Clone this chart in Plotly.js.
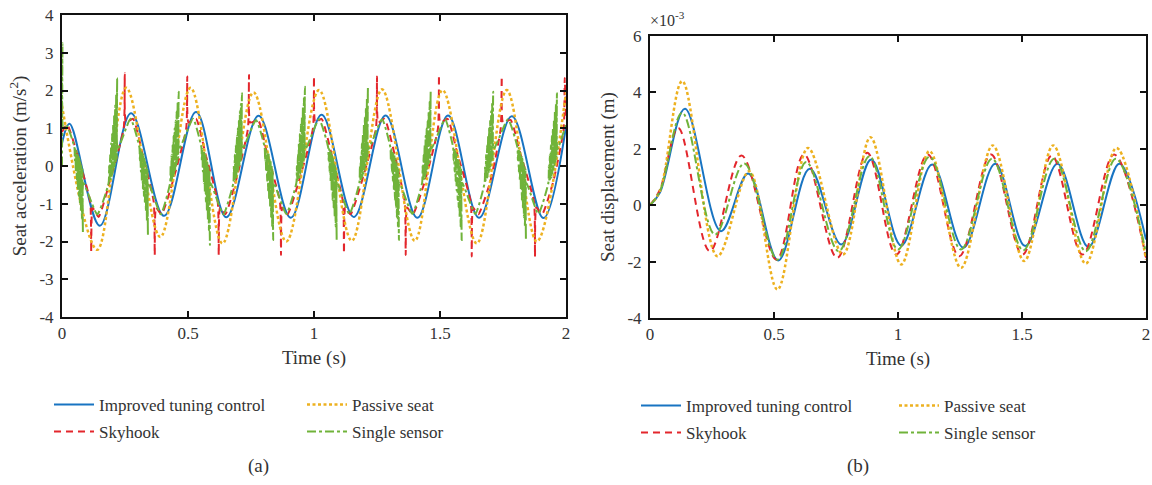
<!DOCTYPE html>
<html><head><meta charset="utf-8">
<script src="https://cdn.plot.ly/plotly-3.0.1.min.js"></script>
<style>html,body{margin:0;padding:0;background:#fff}#chart{width:1152px;height:485px}</style>
</head><body><div id="chart"></div>
<script>
// ---------- Panel (a): seat acceleration (m/s^2) ----------
const tA_improved = [0,0.03,0.15,0.274,0.405,0.532,0.652,0.78,0.908,1.03,1.158,1.284,1.41,1.532,1.655,1.785,1.91,2.0];
const accImproved = [0.6,1.12,-1.58,1.40,-1.32,1.43,-1.36,1.33,-1.37,1.36,-1.35,1.34,-1.37,1.34,-1.37,1.32,-1.38,1.05];

const tA_passive = [0,0.14,0.255,0.39,0.51,0.637,0.76,0.89,1.02,1.15,1.27,1.40,1.51,1.646,1.765,1.884,2.0];
const accPassive = [1.6,-2.22,2.07,-1.88,2.07,-2.05,1.95,-2.0,2.01,-1.98,2.03,-1.98,2.01,-2.05,2.01,-2.0,1.95];

const tA_skyhook = [0,0.02,0.07,0.112,0.116,0.121,0.145,0.19,0.245,0.249,0.254,0.282,0.32,0.364,0.368,0.373,0.395,0.44,
  0.493,0.497,0.502,0.532,0.57,0.618,0.622,0.627,0.648,0.69,0.738,0.742,0.747,0.778,0.815,0.865,0.869,0.874,0.895,0.94,
  0.996,1.0,1.005,1.03,1.07,1.115,1.119,1.124,1.145,1.19,1.246,1.25,1.255,1.28,1.32,1.36,1.364,1.369,1.392,1.44,
  1.492,1.496,1.501,1.53,1.57,1.622,1.626,1.631,1.652,1.70,1.741,1.745,1.75,1.78,1.82,1.873,1.877,1.882,1.905,1.95,
  1.991,1.995,2.0];
const accSkyhook = [0.9,1.1,0.1,-0.95,-2.27,-1.1,-1.35,-0.4,1.0,2.46,1.15,1.25,0.3,-0.95,-2.36,-1.1,-1.28,-0.4,
  1.0,2.37,1.15,1.25,0.3,-0.95,-2.36,-1.1,-1.28,-0.4,1.0,2.41,1.15,1.22,0.3,-0.95,-2.36,-1.1,-1.28,-0.4,
  1.0,2.37,1.15,1.25,0.3,-0.95,-2.31,-1.1,-1.28,-0.4,1.0,2.37,1.15,1.25,0.3,-0.95,-2.36,-1.1,-1.28,-0.4,
  1.0,2.41,1.15,1.25,0.3,-0.95,-2.4,-1.1,-1.28,-0.4,1.0,2.37,1.15,1.22,0.3,-0.95,-2.4,-1.1,-1.28,-0.4,
  1.0,2.33,1.3];

// Single sensor: smooth response with dense chattering bursts on each edge (read as zig-zags)
const tA_single = [0,0.002,0.005,0.02,
  0.049,0.051,0.053,0.055,0.057,0.059,0.061,0.063,0.065,0.067,0.069,0.071,0.073,0.075,0.077,0.079,0.081,0.083,0.085,0.14,
  0.185,0.187,0.189,0.191,0.193,0.195,0.197,0.199,0.201,0.203,0.205,0.207,0.209,0.211,0.213,0.215,0.217,0.219,0.221,0.272,
  0.307,0.309,0.311,0.313,0.315,0.317,0.319,0.321,0.323,0.325,0.327,0.329,0.331,0.333,0.335,0.337,0.339,0.341,0.343,0.392,
  0.429,0.431,0.433,0.435,0.437,0.439,0.441,0.443,0.445,0.447,0.449,0.451,0.453,0.455,0.457,0.459,0.461,0.463,0.465,0.52,
  0.553,0.555,0.557,0.559,0.561,0.563,0.565,0.567,0.569,0.571,0.573,0.575,0.577,0.579,0.581,0.583,0.585,0.587,0.589,0.64,
  0.680,0.682,0.684,0.686,0.688,0.690,0.692,0.694,0.696,0.698,0.700,0.702,0.704,0.706,0.708,0.710,0.712,0.714,0.716,0.77,
  0.804,0.806,0.808,0.810,0.812,0.814,0.816,0.818,0.820,0.822,0.824,0.826,0.828,0.830,0.832,0.834,0.836,0.838,0.840,0.89,
  0.930,0.932,0.934,0.936,0.938,0.940,0.942,0.944,0.946,0.948,0.950,0.952,0.954,0.956,0.958,0.960,0.962,0.964,0.966,1.02,
  1.056,1.058,1.060,1.062,1.064,1.066,1.068,1.070,1.072,1.074,1.076,1.078,1.080,1.082,1.084,1.086,1.088,1.090,1.092,1.14,
  1.180,1.182,1.184,1.186,1.188,1.190,1.192,1.194,1.196,1.198,1.200,1.202,1.204,1.206,1.208,1.210,1.212,1.214,1.216,1.27,
  1.303,1.305,1.307,1.309,1.311,1.313,1.315,1.317,1.319,1.321,1.323,1.325,1.327,1.329,1.331,1.333,1.335,1.337,1.339,1.39,
  1.429,1.431,1.433,1.435,1.437,1.439,1.441,1.443,1.445,1.447,1.449,1.451,1.453,1.455,1.457,1.459,1.461,1.463,1.465,1.52,
  1.552,1.554,1.556,1.558,1.560,1.562,1.564,1.566,1.568,1.570,1.572,1.574,1.576,1.578,1.580,1.582,1.584,1.586,1.588,1.64,
  1.677,1.679,1.681,1.683,1.685,1.687,1.689,1.691,1.693,1.695,1.697,1.699,1.701,1.703,1.705,1.707,1.709,1.711,1.713,1.77,
  1.807,1.809,1.811,1.813,1.815,1.817,1.819,1.821,1.823,1.825,1.827,1.829,1.831,1.833,1.835,1.837,1.839,1.841,1.843,1.89,
  1.930,1.932,1.934,1.936,1.938,1.940,1.942,1.944,1.946,1.948,1.950,1.952,1.954,1.956,1.958,1.960,1.962,1.964,1.966,2.0];
const accSingle = [0,3.25,1.0,1.05,
  0.5,0.15,0.45,-0.15,0.4,-0.4,0.35,-0.6,0.3,-0.8,0.2,-1.0,0.1,-1.2,0.0,-1.4,-0.1,-1.78,-0.45,-1.28,
  -0.45,0.0,-0.4,0.3,-0.35,0.6,-0.3,0.85,-0.2,1.1,-0.1,1.35,0.0,1.6,0.1,1.9,0.2,2.33,0.45,1.25,
  0.5,0.15,0.45,-0.15,0.4,-0.4,0.35,-0.6,0.3,-0.8,0.2,-1.0,0.1,-1.2,0.0,-1.45,-0.1,-1.83,-0.45,-1.28,
  -0.45,0.0,-0.4,0.3,-0.35,0.55,-0.3,0.8,-0.2,1.0,-0.1,1.2,0.0,1.45,0.1,1.7,0.2,1.97,0.45,1.25,
  0.5,0.15,0.45,-0.15,0.4,-0.45,0.35,-0.7,0.3,-0.95,0.2,-1.2,0.1,-1.45,0.0,-1.7,-0.1,-2.09,-0.45,-1.28,
  -0.45,0.0,-0.4,0.3,-0.35,0.55,-0.3,0.8,-0.2,1.0,-0.1,1.2,0.0,1.45,0.1,1.65,0.2,1.93,0.45,1.22,
  0.5,0.15,0.45,-0.15,0.4,-0.4,0.35,-0.65,0.3,-0.9,0.2,-1.1,0.1,-1.35,0.0,-1.6,-0.1,-1.96,-0.45,-1.27,
  -0.45,0.0,-0.4,0.3,-0.35,0.6,-0.3,0.85,-0.2,1.1,-0.1,1.3,0.0,1.55,0.1,1.8,0.2,2.1,0.45,1.24,
  0.5,0.15,0.45,-0.15,0.4,-0.4,0.35,-0.65,0.3,-0.9,0.2,-1.1,0.1,-1.35,0.0,-1.6,-0.1,-1.96,-0.45,-1.27,
  -0.45,0.0,-0.4,0.3,-0.35,0.6,-0.3,0.85,-0.2,1.1,-0.1,1.3,0.0,1.55,0.1,1.8,0.2,2.1,0.45,1.24,
  0.5,0.15,0.45,-0.15,0.4,-0.4,0.35,-0.65,0.3,-0.9,0.2,-1.1,0.1,-1.35,0.0,-1.6,-0.1,-1.96,-0.45,-1.27,
  -0.45,0.0,-0.4,0.3,-0.35,0.55,-0.3,0.8,-0.2,1.0,-0.1,1.2,0.0,1.45,0.1,1.7,0.2,1.97,0.45,1.24,
  0.5,0.15,0.45,-0.15,0.4,-0.4,0.35,-0.65,0.3,-0.9,0.2,-1.1,0.1,-1.35,0.0,-1.6,-0.1,-1.96,-0.45,-1.27,
  -0.45,0.0,-0.4,0.3,-0.35,0.55,-0.3,0.8,-0.2,1.0,-0.1,1.2,0.0,1.45,0.1,1.7,0.2,1.97,0.45,1.24,
  0.5,0.15,0.45,-0.15,0.4,-0.4,0.35,-0.65,0.3,-0.9,0.2,-1.1,0.1,-1.35,0.0,-1.6,-0.1,-1.96,-0.45,-1.27,
  -0.45,0.0,-0.4,0.3,-0.35,0.55,-0.3,0.8,-0.2,1.0,-0.1,1.2,0.0,1.45,0.1,1.65,0.2,1.93,0.45,1.1];

// ---------- Panel (b): seat displacement (x 10^-3 m) ----------
const tB_improved = [0,0.04,0.141,0.286,0.396,0.517,0.644,0.771,0.892,1.013,1.138,1.264,1.392,1.513,1.643,1.768,1.892,2.0];
const dispImproved = [0,0.45,3.42,-0.92,1.12,-1.96,1.29,-1.39,1.62,-1.43,1.44,-1.51,1.47,-1.45,1.47,-1.48,1.47,-1.22];

const tB_passive = [0,0.04,0.13,0.272,0.40,0.514,0.637,0.778,0.889,1.013,1.127,1.254,1.382,1.509,1.626,1.757,1.881,2.0];
const dispPassive = [0,0.5,4.4,-1.81,1.2,-2.99,2.03,-1.75,2.41,-2.1,1.92,-2.22,2.12,-1.98,2.12,-2.07,2.03,-1.93];

const tB_skyhook = [0,0.04,0.114,0.241,0.369,0.51,0.621,0.755,0.876,0.993,1.12,1.247,1.375,1.502,1.62,1.744,1.871,2.0];
const dispSkyhook = [0,0.55,2.74,-1.63,1.76,-1.93,1.8,-1.87,1.86,-1.75,1.8,-1.81,1.8,-1.75,1.76,-1.75,1.8,-1.86];

const tB_single = [0,0.04,0.13,0.262,0.38,0.514,0.63,0.761,0.885,1.0,1.127,1.254,1.379,1.505,1.63,1.757,1.878,2.0];
const dispSingle = [0,0.5,3.28,-1.04,1.48,-1.93,1.53,-1.63,1.74,-1.57,1.72,-1.57,1.65,-1.6,1.65,-1.63,1.65,-1.7];

// ---------- Labels ----------
const seriesNames = ["Improved tuning control","Skyhook","Passive seat","Single sensor"];
const xTickVals = [0,0.5,1,1.5,2];
const xTickText = ["0","0.5","1","1.5","2"];
const yTickValsA = [-4,-3,-2,-1,0,1,2,3,4];
const yTickTextA = ["-4","-3","-2","-1","0","1","2","3","4"];
const yTickValsB = [-4,-2,0,2,4,6];
const yTickTextB = ["-4","-2","0","2","4","6"];

// ---------- Styles ----------
const FONT = "Liberation Serif, Times New Roman, serif";
const TXT = "#333333";
const C_BLUE = "#1874c2", C_RED = "#e3262c", C_ORANGE = "#edb120", C_GREEN = "#70b33a";
const W = 1152, H = 485;
const px = v => v / W, py = v => 1 - v / H;

function tr(x, y, name, color, dash, width, xa, ya, leg, smooth) {
  return {x, y, name, type: "scatter", mode: "lines", xaxis: xa, yaxis: ya, legend: leg,
    line: {color, dash, width, shape: "spline", smoothing: smooth == null ? 1 : smooth}, hoverinfo: "skip"};
}

const data = [
  tr(tA_improved, accImproved, seriesNames[0], C_BLUE, "solid", 2, "x", "y", "legend"),
  tr(tA_skyhook, accSkyhook, seriesNames[1], C_RED, "7px,5px", 2, "x", "y", "legend2", 0.5),
  tr(tA_passive, accPassive, seriesNames[2], C_ORANGE, "3px,2.5px", 2.5, "x", "y", "legend3"),
  tr(tA_single, accSingle, seriesNames[3], C_GREEN, "9px,3px,3px,3px", 2, "x", "y", "legend4", 0.5),
  tr(tB_improved, dispImproved, seriesNames[0], C_BLUE, "solid", 2, "x2", "y2", "legend5"),
  tr(tB_skyhook, dispSkyhook, seriesNames[1], C_RED, "7px,5px", 2, "x2", "y2", "legend6"),
  tr(tB_passive, dispPassive, seriesNames[2], C_ORANGE, "3px,2.5px", 2.5, "x2", "y2", "legend7"),
  tr(tB_single, dispSingle, seriesNames[3], C_GREEN, "9px,3px,3px,3px", 2, "x2", "y2", "legend8")
];

function axisBase() {
  return {showline: true, linecolor: "#111", linewidth: 2, mirror: "ticks", ticks: "inside", ticklen: 6,
    tickwidth: 2, tickcolor: "#111", showgrid: false, zeroline: false, tickmode: "array",
    tickfont: {family: FONT, size: 17, color: TXT}, fixedrange: true};
}
function leg(x, y) {
  return {x: px(x), y: py(y), xanchor: "left", yanchor: "middle", bgcolor: "rgba(0,0,0,0)", itemwidth: 40,
    font: {family: FONT, size: 17, color: TXT}, borderwidth: 0};
}

const layout = {
  width: W, height: H, margin: {l: 0, r: 0, t: 0, b: 0},
  paper_bgcolor: "#fff", plot_bgcolor: "#fff", showlegend: true,
  font: {family: FONT, color: TXT},
  xaxis: Object.assign(axisBase(), {domain: [px(62), px(566)], range: [0, 2], tickvals: xTickVals, ticktext: xTickText,
    anchor: "y", title: {text: "Time (s)", font: {family: FONT, size: 19, color: TXT}, standoff: 8}}),
  yaxis: Object.assign(axisBase(), {domain: [py(317), py(15)], range: [-4, 4], tickvals: yTickValsA, ticktext: yTickTextA,
    anchor: "x", ticklabelstandoff: 3,
    title: {text: "Seat acceleration (m/s<sup>2</sup>)", font: {family: FONT, size: 19, color: TXT}, standoff: 8}}),
  xaxis2: Object.assign(axisBase(), {domain: [px(650), px(1146)], range: [0, 2], tickvals: xTickVals, ticktext: xTickText,
    anchor: "y2", title: {text: "Time (s)", font: {family: FONT, size: 19, color: TXT}, standoff: 8}}),
  yaxis2: Object.assign(axisBase(), {domain: [py(318), py(36)], range: [-4, 6], tickvals: yTickValsB, ticktext: yTickTextB,
    anchor: "x2", ticklabelstandoff: 3,
    title: {text: "Seat displacement (m)", font: {family: FONT, size: 19, color: TXT}, standoff: 8}}),
  legend: leg(49, 405), legend2: leg(49, 432), legend3: leg(302, 405), legend4: leg(302, 432),
  legend5: leg(636, 406), legend6: leg(636, 433), legend7: leg(894, 406), legend8: leg(894, 433),
  annotations: [
    {text: "×10<sup>-3</sup>", xref: "paper", yref: "paper", x: px(648), y: py(19), xanchor: "left", yanchor: "middle",
      showarrow: false, font: {family: FONT, size: 16, color: TXT}},
    {text: "(a)", xref: "paper", yref: "paper", x: px(258), y: py(466), xanchor: "center", yanchor: "middle",
      showarrow: false, font: {family: FONT, size: 19, color: TXT}},
    {text: "(b)", xref: "paper", yref: "paper", x: px(858), y: py(466), xanchor: "center", yanchor: "middle",
      showarrow: false, font: {family: FONT, size: 19, color: TXT}}
  ]
};

Plotly.newPlot("chart", data, layout, {displayModeBar: false, staticPlot: true});
</script></body></html>
